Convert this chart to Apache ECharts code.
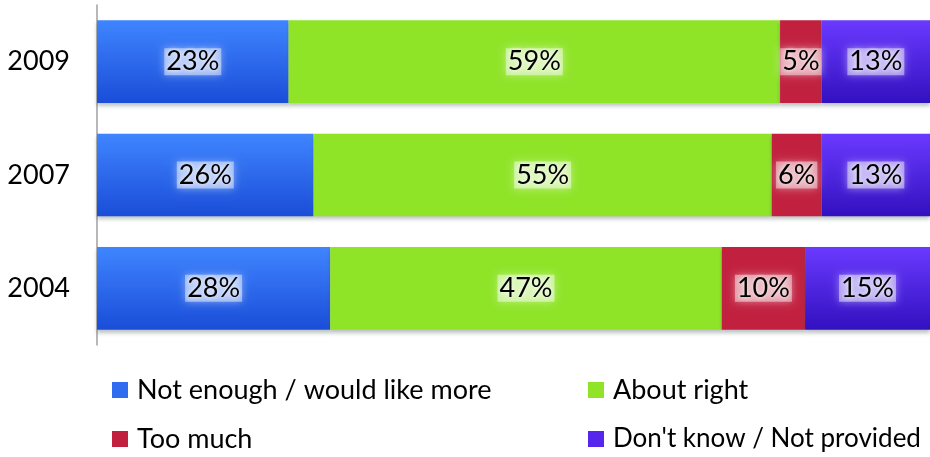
<!DOCTYPE html>
<html>
<head>
<meta charset="utf-8">
<script src="https://cdn.jsdelivr.net/npm/echarts@6/dist/echarts.min.js"></script>
<style>
  html, body { margin: 0; padding: 0; background: #fff; }
  #chart { width: 930px; height: 457px; }
</style>
</head>
<body>
<div id="chart"></div>
<script>
// Survey years, bottom to top on the category axis
const years = ['2004', '2007', '2009'];

// Share of responses (%) per answer, in the same order as years
const notEnough = [28, 26, 23];
const aboutRight = [47, 55, 59];
const tooMuch = [10, 6, 5];
const dontKnow = [15, 13, 13];

const seriesNames = [
  'Not enough / would like more',
  'About right',
  'Too much',
  "Don't know / Not provided"
];

const FONT = 'Lato, "Open Sans", sans-serif';
const FS = 27;

function vGrad(top, bottom) {
  return new echarts.graphic.LinearGradient(0, 0, 0, 1, [
    { offset: 0, color: top },
    { offset: 1, color: bottom }
  ]);
}

const colors = [
  vGrad('#3f85ff', '#1a4dd8'),
  '#8fe428',
  '#c1213f',
  vGrad('#6a3aff', '#3210bf')
];
const legendColors = ['#2f6cf0', '#8fe428', '#c1213f', '#5626ee'];

// Value labels with a soft light halo behind the text
const labelStyle = {
  show: true,
  position: 'inside',
  color: '#000',
  fontFamily: FONT,
  fontSize: FS,
  backgroundColor: 'rgba(255,255,255,0.45)',
  padding: [0, 2],
  shadowColor: 'rgba(255,255,255,0.9)',
  shadowBlur: 8,
  textShadowColor: 'rgba(255,255,255,0.9)',
  textShadowBlur: 4,
  formatter: p => p.value + '%'
};

const values = [notEnough, aboutRight, tooMuch, dontKnow];

const series = seriesNames.map((name, i) => ({
  name: name,
  type: 'bar',
  stack: 'total',
  barCategoryGap: '27%',
  data: values[i],
  itemStyle: {
    color: colors[i],
    shadowColor: 'rgba(60,80,80,0.35)',
    shadowBlur: 4,
    shadowOffsetY: 3
  },
  label: labelStyle,
  emphasis: { disabled: true }
}));

// One legend entry per box, laid out in two columns
const legendPos = [
  { left: 112, top: 376, size: FS },
  { left: 588, top: 376, size: FS },
  { left: 112, top: 425, size: FS },
  { left: 588, top: 425, size: 26 }
];
const legends = seriesNames.map((name, i) => ({
  data: [{ name: name, itemStyle: { color: legendColors[i] } }],
  left: legendPos[i].left,
  top: legendPos[i].top,
  padding: 0,
  itemWidth: 16,
  itemHeight: 16,
  itemGap: 0,
  icon: 'rect',
  selectedMode: false,
  textStyle: {
    fontFamily: FONT,
    fontSize: legendPos[i].size,
    lineHeight: 28,
    color: '#000',
    padding: [0, 0, 0, 4]
  }
}));

const chart = echarts.init(document.getElementById('chart'));
chart.setOption({
  animation: false,
  backgroundColor: '#fff',
  legend: legends,
  grid: { left: 97, right: 0, top: 5, bottom: 112, containLabel: false },
  xAxis: {
    type: 'value',
    min: 0,
    max: 100,
    show: false
  },
  yAxis: {
    type: 'category',
    data: years,
    axisLine: { show: true, lineStyle: { color: '#a0a0a0', width: 1.5 } },
    axisTick: { show: false },
    axisLabel: {
      color: '#000',
      fontFamily: FONT,
      fontSize: FS,
      margin: 27
    }
  },
  series: series
});
</script>
</body>
</html>
